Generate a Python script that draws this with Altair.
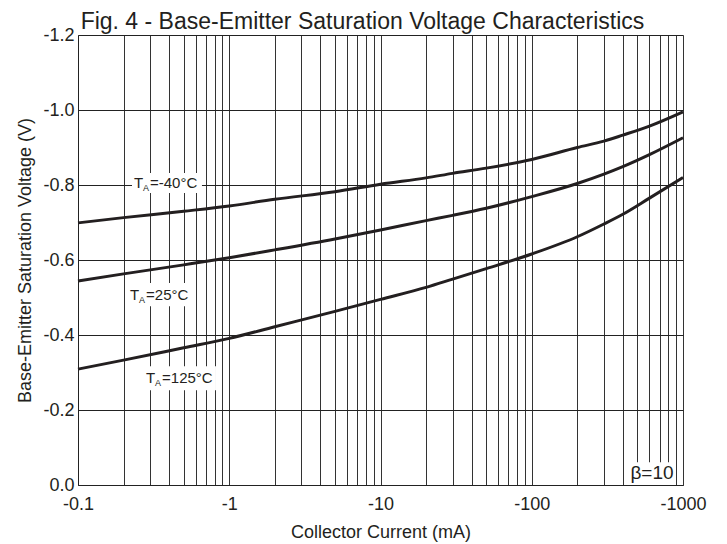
import altair as alt
import pandas as pd

# ---- data (magnitudes; axis labels show negative sign) ----
currents = [0.1, 0.2, 0.5, 1, 2, 5, 10, 20, 30, 50, 100, 200, 300, 400, 600, 1000]
v_m40 = [0.699, 0.713, 0.730, 0.744, 0.762, 0.782, 0.802, 0.819, 0.831, 0.845, 0.868, 0.900, 0.917, 0.933, 0.957, 0.995]
v_25 = [0.544, 0.563, 0.587, 0.606, 0.627, 0.656, 0.680, 0.705, 0.719, 0.738, 0.769, 0.804, 0.829, 0.849, 0.881, 0.926]
v_125 = [0.309, 0.333, 0.366, 0.391, 0.422, 0.463, 0.495, 0.527, 0.549, 0.577, 0.616, 0.662, 0.696, 0.722, 0.765, 0.820]
series_names = ["-40", "25", "125"]

# curve labels (T_A = ...) : anchor of text start and white background box
label_rest = ["=-40°C", "=25°C", "=125°C"]
label_x = [0.2346, 0.2208, 0.2817]
label_y = [0.805, 0.507, 0.286]
box_x1 = [0.2275, 0.2045, 0.2690]
box_x2 = [0.660, 0.594, 0.817]
box_y1 = [0.779, 0.477, 0.253]
box_y2 = [0.832, 0.539, 0.317]

beta_text = ["β=10"]
beta_x = [623.7]
beta_y = [0.031]
beta_box_x1 = [432.7]
beta_box_x2 = [885.0]
beta_box_y1 = [0.0]
beta_box_y2 = [0.061]

x_grid_values = [0.1, 0.2, 0.3, 0.4, 0.5, 0.6, 0.7, 0.8, 0.9,
                 1, 2, 3, 4, 5, 6, 7, 8, 9,
                 10, 20, 30, 40, 50, 60, 70, 80, 90,
                 100, 200, 300, 400, 500, 600, 700, 800, 900, 1000]
y_grid_values = [0, 0.1, 0.2, 0.3, 0.4, 0.5, 0.6, 0.7, 0.8, 0.9, 1.0, 1.1, 1.2]

FONT = "Liberation Sans"
INK = "#231f20"

rows = []
for name, vals in zip(series_names, [v_m40, v_25, v_125]):
    for c, v in zip(currents, vals):
        rows.append({"series": name, "current": c, "vbe": v})
curves = pd.DataFrame(rows)

labels = pd.DataFrame({"rest": label_rest, "x": label_x, "y": label_y,
                       "x1": box_x1, "x2": box_x2, "y1": box_y1, "y2": box_y2})
beta = pd.DataFrame({"t": beta_text, "x": beta_x, "y": beta_y,
                     "x1": beta_box_x1, "x2": beta_box_x2, "y1": beta_box_y1, "y2": beta_box_y2})

xscale = alt.Scale(type="log", domain=[0.1, 1000], nice=False)
yscale = alt.Scale(domain=[0, 1.2], nice=False, zero=False)

decades = "[0.1, 1, 10, 100, 1000]"
x_axis = alt.Axis(values=x_grid_values, labelExpr=f"indexof({decades}, datum.value) >= 0 ? '-' + datum.value : ''",
                  title="Collector Current (mA)", grid=True, gridColor="#333333", gridWidth=1, gridOpacity=1,
                  ticks=False, labelFlush=False, labelOverlap=False, labelPadding=10,
                  labelFontSize=18, labelFont=FONT, labelColor=INK,
                  titleFontSize=18, titleFont=FONT, titleFontWeight="normal", titleColor=INK, titlePadding=10,
                  domainColor="#222222")
y_axis = alt.Axis(values=y_grid_values,
                  labelExpr="round(datum.value*10) % 2 == 0 ? (datum.value == 0 ? '0.0' : '-' + format(datum.value, '.1f')) : ''",
                  title="Base-Emitter Saturation Voltage (V)", grid=True, gridColor="#222222", gridWidth=1, gridOpacity=1,
                  ticks=False, labelFlush=False, labelOverlap=False, labelPadding=4,
                  labelFontSize=18, labelFont=FONT, labelColor=INK,
                  titleFontSize=18, titleFont=FONT, titleFontWeight="normal", titleColor=INK, titlePadding=8,
                  domainColor="#222222")

lines = alt.Chart(curves).mark_line(strokeWidth=3, color=INK, interpolate="monotone").encode(
    x=alt.X("current:Q", scale=xscale, axis=x_axis),
    y=alt.Y("vbe:Q", scale=yscale, axis=y_axis),
    detail="series:N",
)

boxes = alt.Chart(labels).mark_rect(color="white").encode(
    x=alt.X("x1:Q", scale=xscale), x2="x2:Q",
    y=alt.Y("y1:Q", scale=yscale), y2="y2:Q",
)
t_main = alt.Chart(labels).mark_text(text="T", align="left", baseline="middle", fontSize=15, font=FONT, color=INK).encode(
    x=alt.X("x:Q", scale=xscale), y=alt.Y("y:Q", scale=yscale))
t_sub = alt.Chart(labels).mark_text(text="A", align="left", baseline="middle", fontSize=9, font=FONT, color=INK, dx=9, dy=5).encode(
    x=alt.X("x:Q", scale=xscale), y=alt.Y("y:Q", scale=yscale))
t_rest = alt.Chart(labels).mark_text(align="left", baseline="middle", fontSize=15, font=FONT, color=INK, dx=16).encode(
    x=alt.X("x:Q", scale=xscale), y=alt.Y("y:Q", scale=yscale), text="rest:N")

beta_box = alt.Chart(beta).mark_rect(color="white").encode(
    x=alt.X("x1:Q", scale=xscale), x2="x2:Q",
    y=alt.Y("y1:Q", scale=yscale), y2="y2:Q",
)
beta_txt = alt.Chart(beta).mark_text(align="center", baseline="middle", fontSize=19, font=FONT, color=INK).encode(
    x=alt.X("x:Q", scale=xscale), y=alt.Y("y:Q", scale=yscale), text="t:N")

chart = alt.layer(lines, boxes, t_main, t_sub, t_rest, beta_box, beta_txt).properties(
    width=605, height=450,
    title=alt.TitleParams("Fig. 4 - Base-Emitter Saturation Voltage Characteristics",
                          fontSize=23, font=FONT, fontWeight="normal", color=INK, anchor="middle",
                          offset=-8, dx=-18),
    autosize=alt.AutoSizeParams(type="none"),
    padding={"left": 70, "top": 27, "right": 30, "bottom": 57},
).configure_view(stroke="#222222", strokeWidth=1).configure(background="white")

chart.save("out.html", embed_options={"renderer": "svg", "actions": False})
